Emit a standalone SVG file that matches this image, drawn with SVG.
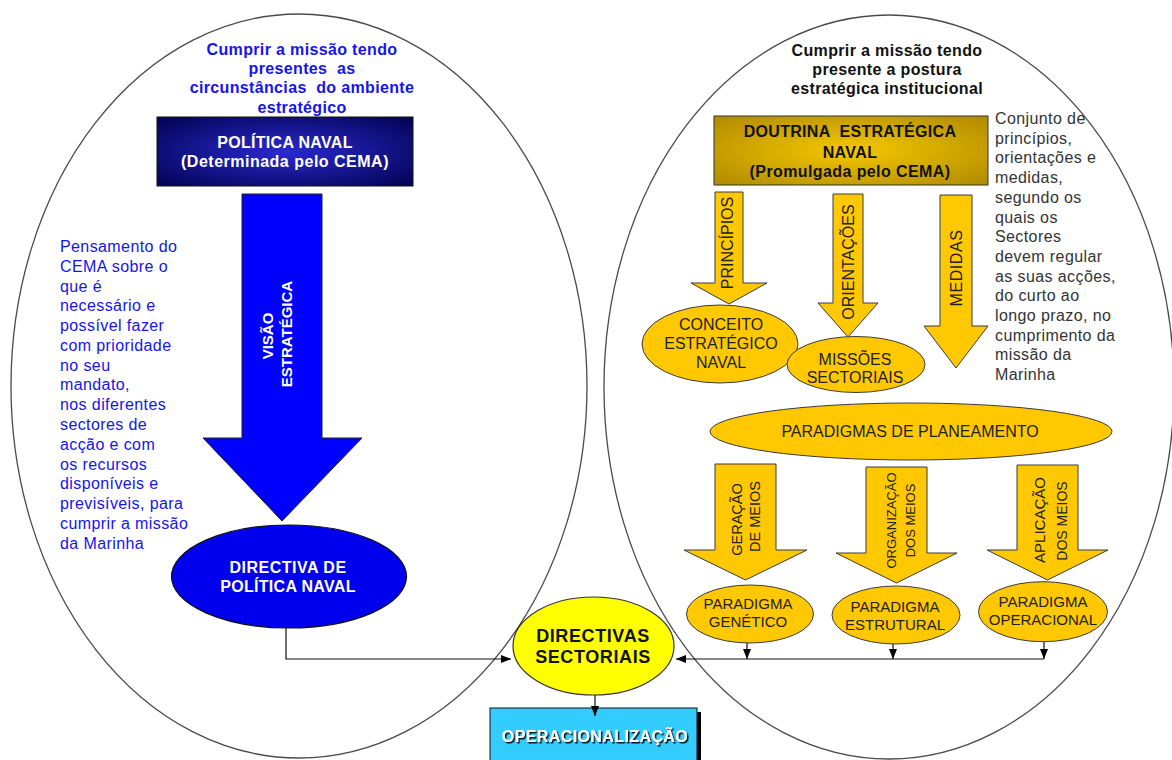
<svg xmlns="http://www.w3.org/2000/svg" width="1172" height="760" viewBox="0 0 1172 760">
<defs>
<radialGradient id="gNavy" cx="50%" cy="50%" r="65%">
<stop offset="0" stop-color="#2a2ad0"/>
<stop offset="1" stop-color="#05055a"/>
</radialGradient>
<radialGradient id="gGold" cx="50%" cy="50%" r="65%">
<stop offset="0" stop-color="#f5c800"/>
<stop offset="1" stop-color="#b48e00"/>
</radialGradient>
<marker id="ah" viewBox="0 0 10 8" markerWidth="10" markerHeight="8" refX="10" refY="4" orient="auto" markerUnits="userSpaceOnUse">
<path d="M0,0 L10,4 L0,8 z" fill="#000"/>
</marker>
<filter id="tsh" x="-10%" y="-30%" width="120%" height="160%">
<feDropShadow dx="1.5" dy="1.5" stdDeviation="0.3" flood-color="#000" flood-opacity="0.9"/>
</filter>
</defs>
<style>
text{font-family:"Liberation Sans",Arial,sans-serif}
.reg{fill:none;stroke:#4a4a4a;stroke-width:1.3}
.ttl{font-size:16px;font-weight:bold;text-anchor:middle;letter-spacing:0.35px;white-space:pre}
.blue{fill:#1414f0}
.desc{font-size:16px;letter-spacing:0.4px}
.wb{fill:#fff;font-weight:bold;text-anchor:middle}
.kb{fill:#111;font-weight:bold;text-anchor:middle;white-space:pre}
.yel{fill:#ffc800;stroke:#3a3a3a;stroke-width:1}
.yt{fill:#222;text-anchor:middle}
.conn{fill:none;stroke:#111;stroke-width:1.2}
</style>

<g id="regions">
<ellipse class="reg" cx="299" cy="386" rx="288" ry="372"/>
<ellipse class="reg" cx="889" cy="387" rx="285" ry="372"/>
</g>

<g id="left-title">
<text class="ttl blue" x="302" y="55">Cumprir a missão tendo</text>
<text class="ttl blue" x="302" y="74">presentes  as</text>
<text class="ttl blue" x="302" y="93">circunstâncias  do ambiente</text>
<text class="ttl blue" x="302" y="113">estratégico</text>
</g>

<g id="politica-naval">
<rect x="157" y="117" width="256" height="69" fill="url(#gNavy)" stroke="#111" stroke-width="1"/>
<text class="wb" x="285" y="148" font-size="16" letter-spacing="0.3">POLÍTICA NAVAL</text>
<text class="wb" x="285" y="167" font-size="16" letter-spacing="0.5">(Determinada pelo CEMA)</text>
</g>

<g id="visao-estrategica">
<polygon points="242,194 322,194 322,438 362,438 282,521 203,438 242,438" fill="#0000ff" stroke="#222" stroke-width="1"/>
<text class="wb" font-size="15" transform="translate(273,336) rotate(-90)">VISÃO</text>
<text class="wb" font-size="15" transform="translate(292,334) rotate(-90)">ESTRATÉGICA</text>
</g>

<g id="left-desc">
<text class="desc blue" x="60" y="252">Pensamento do</text>
<text class="desc blue" x="60" y="271.8">CEMA sobre o</text>
<text class="desc blue" x="60" y="291.5">que é</text>
<text class="desc blue" x="60" y="311.3">necessário e</text>
<text class="desc blue" x="60" y="331">possível fazer</text>
<text class="desc blue" x="60" y="350.8">com prioridade</text>
<text class="desc blue" x="60" y="370.6">no seu</text>
<text class="desc blue" x="60" y="390.4">mandato,</text>
<text class="desc blue" x="60" y="410.2">nos diferentes</text>
<text class="desc blue" x="60" y="430">sectores de</text>
<text class="desc blue" x="60" y="449.7">acção e com</text>
<text class="desc blue" x="60" y="469.5">os recursos</text>
<text class="desc blue" x="60" y="489.2">disponíveis e</text>
<text class="desc blue" x="60" y="509">previsíveis, para</text>
<text class="desc blue" x="60" y="528.8">cumprir a missão</text>
<text class="desc blue" x="60" y="548.5">da Marinha</text>
</g>

<g id="directiva-politica-naval">
<ellipse cx="289" cy="576.5" rx="117.5" ry="51.5" fill="#0000ee" stroke="#111" stroke-width="1.2"/>
<text class="wb" x="288" y="572.7" font-size="16" letter-spacing="0.5">DIRECTIVA DE</text>
<text class="wb" x="288" y="592" font-size="16" letter-spacing="0.3">POLÍTICA NAVAL</text>
</g>

<g id="right-title">
<text class="ttl" fill="#111" x="887" y="56">Cumprir a missão tendo</text>
<text class="ttl" fill="#111" x="887" y="75">presente a postura</text>
<text class="ttl" fill="#111" x="887" y="93.5">estratégica institucional</text>
</g>

<g id="doutrina">
<rect x="714" y="116" width="274" height="69" fill="url(#gGold)" stroke="#333" stroke-width="1"/>
<text class="kb" x="850" y="137.3" font-size="16" letter-spacing="0.3">DOUTRINA  ESTRATÉGICA</text>
<text class="kb" x="850" y="157.7" font-size="16" letter-spacing="0.4">NAVAL</text>
<text class="kb" x="850" y="176.7" font-size="16" letter-spacing="0.4">(Promulgada pelo CEMA)</text>
</g>

<g id="right-desc" fill="#333">
<text class="desc" x="995" y="124">Conjunto de</text>
<text class="desc" x="995" y="143.7">princípios,</text>
<text class="desc" x="995" y="163.4">orientações e</text>
<text class="desc" x="995" y="183.1">medidas,</text>
<text class="desc" x="995" y="202.8">segundo os</text>
<text class="desc" x="995" y="222.5">quais os</text>
<text class="desc" x="995" y="242.2">Sectores</text>
<text class="desc" x="995" y="261.9">devem regular</text>
<text class="desc" x="995" y="281.6">as suas acções,</text>
<text class="desc" x="995" y="301.3">do curto ao</text>
<text class="desc" x="995" y="321">longo prazo, no</text>
<text class="desc" x="995" y="340.7">cumprimento da</text>
<text class="desc" x="995" y="360.4">missão da</text>
<text class="desc" x="995" y="380.1">Marinha</text>
</g>

<g id="principios">
<polygon class="yel" points="715,192 743,192 743,283 767,283 729,304 691,283 715,283"/>
<text class="yt" font-size="16" transform="translate(733,243) rotate(-90)">PRINCÍPIOS</text>
</g>
<g id="orientacoes">
<polygon class="yel" points="833,194 863,194 863,303 878,303 848,337 818,303 833,303"/>
<text class="yt" font-size="16" transform="translate(854,262) rotate(-90)">ORIENTAÇÕES</text>
</g>
<g id="medidas">
<polygon class="yel" points="940,195 972,195 972,326 988,326 956,368 924,326 940,326"/>
<text class="yt" font-size="16" letter-spacing="0.6" transform="translate(962,268) rotate(-90)">MEDIDAS</text>
</g>

<g id="conceito-estrategico-naval">
<ellipse class="yel" cx="720" cy="344" rx="78" ry="39"/>
<text class="yt" font-size="16" x="721" y="330">CONCEITO</text>
<text class="yt" font-size="16" x="721" y="349.3">ESTRATÉGICO</text>
<text class="yt" font-size="16" x="721" y="368.3">NAVAL</text>
</g>

<g id="missoes-sectoriais">
<ellipse class="yel" cx="856" cy="364.5" rx="69" ry="28"/>
<text class="yt" font-size="16" x="855" y="365">MISSÕES</text>
<text class="yt" font-size="16" x="855" y="383.3">SECTORIAIS</text>
</g>

<g id="paradigmas-planeamento">
<ellipse class="yel" cx="911" cy="431.5" rx="201" ry="28.5"/>
<text class="yt" font-size="16" x="910" y="436.7">PARADIGMAS DE PLANEAMENTO</text>
</g>

<g id="geracao-meios">
<polygon class="yel" points="715,464 776,464 776,550 807,550 745.5,580 684,550 715,550"/>
<text class="yt" font-size="14.5" transform="translate(742,519.5) rotate(-90)">GERAÇÃO</text>
<text class="yt" font-size="14.5" transform="translate(760,516.5) rotate(-90)">DE MEIOS</text>
</g>
<g id="organizacao-meios">
<polygon class="yel" points="866,467 927,467 927,553 957,553 896.5,583 836,553 866,553"/>
<text class="yt" font-size="13" transform="translate(896,520.5) rotate(-90)">ORGANIZAÇÃO</text>
<text class="yt" font-size="13" transform="translate(915,520.5) rotate(-90)">DOS MEIOS</text>
</g>
<g id="aplicacao-meios">
<polygon class="yel" points="1017,465 1078,465 1078,550 1108,550 1047.5,580 987,550 1017,550"/>
<text class="yt" font-size="15" transform="translate(1045,520) rotate(-90)">APLICAÇÃO</text>
<text class="yt" font-size="14" transform="translate(1067,521) rotate(-90)">DOS MEIOS</text>
</g>

<g id="paradigma-genetico">
<ellipse class="yel" cx="750" cy="614" rx="63.5" ry="29"/>
<text class="yt" font-size="15" x="748" y="609.3">PARADIGMA</text>
<text class="yt" font-size="15" x="748" y="626.7">GENÉTICO</text>
</g>
<g id="paradigma-estrutural">
<ellipse class="yel" cx="896" cy="615" rx="64" ry="29"/>
<text class="yt" font-size="15" x="895" y="611.7">PARADIGMA</text>
<text class="yt" font-size="15" x="895" y="630">ESTRUTURAL</text>
</g>
<g id="paradigma-operacional">
<ellipse class="yel" cx="1043" cy="611.7" rx="64.5" ry="30"/>
<text class="yt" font-size="15" x="1043" y="606.7">PARADIGMA</text>
<text class="yt" font-size="15" x="1043" y="625">OPERACIONAL</text>
</g>

<g id="directivas-sectoriais">
<ellipse cx="593.5" cy="646" rx="80.5" ry="49" fill="#ffff00" stroke="#333" stroke-width="1.2"/>
<text class="kb" x="593" y="641.7" font-size="18" letter-spacing="0.6">DIRECTIVAS</text>
<text class="kb" x="593" y="662.7" font-size="18" letter-spacing="0.6">SECTORIAIS</text>
</g>

<g id="operacionalizacao">
<rect x="494" y="712" width="207" height="60" fill="#000"/>
<rect x="490" y="708" width="207" height="60" fill="#33ccff" stroke="#111" stroke-width="1"/>
<text class="wb" x="595" y="742" font-size="16" letter-spacing="0.4" filter="url(#tsh)">OPERACIONALIZAÇÃO</text>
</g>

<g id="connectors">
<path class="conn" d="M286,628 V659 H511" marker-end="url(#ah)"/>
<path class="conn" d="M1044,659 H676" marker-end="url(#ah)"/>
<path class="conn" d="M747,643 V659" marker-end="url(#ah)"/>
<path class="conn" d="M893,644 V659" marker-end="url(#ah)"/>
<path class="conn" d="M1044,642 V659" marker-end="url(#ah)"/>
<path class="conn" d="M595,695 V716" marker-end="url(#ah)"/>
</g>
</svg>
